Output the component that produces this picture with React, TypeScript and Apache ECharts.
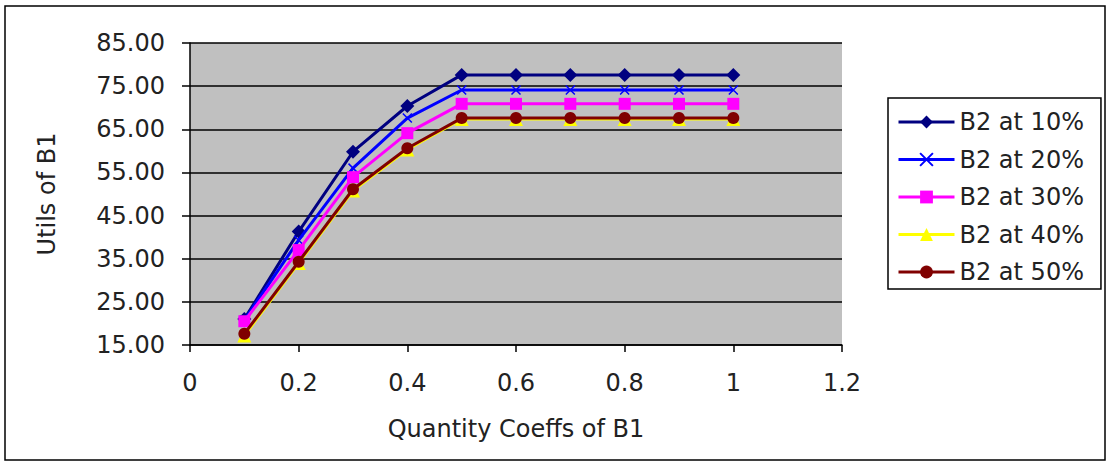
import React, { useEffect, useRef } from "react";
import * as echarts from "echarts";

const xValues = [0.1, 0.2, 0.3, 0.4, 0.5, 0.6, 0.7, 0.8, 0.9, 1.0];
const b2At10 = [21.0, 41.3, 59.8, 70.4, 77.6, 77.6, 77.6, 77.6, 77.6, 77.6];
const b2At20 = [20.8, 39.3, 56.0, 67.6, 74.1, 74.1, 74.1, 74.1, 74.1, 74.1];
const b2At30 = [20.5, 37.0, 53.9, 64.1, 70.9, 70.9, 70.9, 70.9, 70.9, 70.9];
const b2At40 = [17.2, 34.0, 50.8, 60.3, 67.4, 67.4, 67.4, 67.4, 67.4, 67.4];
const b2At50 = [17.6, 34.3, 51.1, 60.6, 67.6, 67.6, 67.6, 67.6, 67.6, 67.6];
const seriesNames = ["B2 at 10%", "B2 at 20%", "B2 at 30%", "B2 at 40%", "B2 at 50%"];
const xTitle = "Quantity Coeffs of B1";
const yTitle = "Utils of B1";

const FONT = "DejaVu Sans";
const CROSS = "path://M0,0 L10,10 M10,0 L0,10";

export default function App() {
  const ref = useRef<HTMLDivElement>(null);
  useEffect(() => {
    if (!ref.current) return;
    const chart = echarts.init(ref.current, undefined, { renderer: "svg" });
    const allValues = [b2At10, b2At20, b2At30, b2At40, b2At50];
    const styles = [
      { color: "#000080", symbol: "diamond", size: 14, border: 0 },
      { color: "#0000FF", symbol: CROSS, size: 9, border: 1.5 },
      { color: "#FF00FF", symbol: "rect", size: 12, border: 0 },
      { color: "#FFFF00", symbol: "triangle", size: 14, border: 0 },
      { color: "#800000", symbol: "circle", size: 12, border: 0 },
    ];
    const series = allValues.map((vals, i) => ({
      name: seriesNames[i],
      type: "line",
      data: xValues.map((x, j) => [x, vals[j]]),
      symbol: styles[i].symbol,
      symbolSize: styles[i].size,
      showSymbol: true,
      lineStyle: { color: styles[i].color, width: 3 },
      itemStyle: {
        color: styles[i].color,
        borderColor: styles[i].color,
        borderWidth: styles[i].border,
      },
      z: 2 + i,
    }));
    chart.setOption({
      animation: false,
      backgroundColor: "#ffffff",
      textStyle: { fontFamily: FONT },
      graphic: [
        {
          type: "rect",
          shape: { x: 5, y: 6, width: 1100, height: 454 },
          style: { fill: "none", stroke: "#000", lineWidth: 1.5 },
          silent: true,
        },
      ],
      grid: {
        left: 190,
        right: 266,
        top: 43,
        bottom: 120,
        show: true,
        backgroundColor: "#c0c0c0",
        borderWidth: 0,
      },
      legend: {
        orient: "vertical",
        left: 888,
        top: 98,
        padding: [12, 17, 5, 9],
        itemGap: 13.5,
        itemWidth: 56,
        itemHeight: 16,
        backgroundColor: "#ffffff",
        borderColor: "#000000",
        borderWidth: 1.5,
        lineStyle: { width: 3 },
        textStyle: { fontFamily: FONT, fontSize: 24, color: "#222", lineHeight: 24 },
        data: seriesNames,
      },
      xAxis: {
        type: "value",
        min: 0,
        max: 1.2,
        interval: 0.2,
        name: xTitle,
        nameLocation: "middle",
        nameGap: 72,
        nameTextStyle: { fontFamily: FONT, fontSize: 24, color: "#222" },
        axisLine: { show: true, lineStyle: { color: "#000", width: 1.5 } },
        axisTick: { show: true, inside: false, length: 7, lineStyle: { color: "#000", width: 1.5 } },
        axisLabel: {
          fontFamily: FONT,
          fontSize: 24,
          color: "#222",
          margin: 26,
          formatter: (v: number) => String(Math.round(v * 10) / 10),
        },
        splitLine: { show: false },
      },
      yAxis: {
        type: "value",
        min: 15,
        max: 85,
        interval: 10,
        name: yTitle,
        nameLocation: "middle",
        nameGap: 131,
        nameTextStyle: { fontFamily: FONT, fontSize: 24, color: "#222" },
        axisLine: { show: true, lineStyle: { color: "#000", width: 1.5 } },
        axisTick: { show: true, inside: false, length: 8, lineStyle: { color: "#000", width: 1.5 } },
        axisLabel: {
          fontFamily: FONT,
          fontSize: 24,
          color: "#222",
          margin: 25,
          formatter: (v: number) => v.toFixed(2),
        },
        splitLine: { show: true, lineStyle: { color: "#000", width: 1.5 } },
      },
      series,
    });
    return () => chart.dispose();
  }, []);
  return (
    <div
      ref={ref}
      style={{ position: "absolute", left: 0, top: 0, width: 1108, height: 465, background: "#fff" }}
    />
  );
}
